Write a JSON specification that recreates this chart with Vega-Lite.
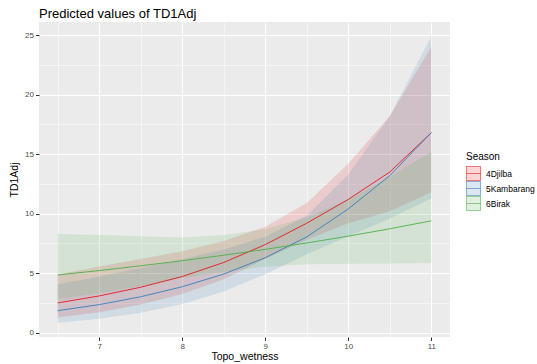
{
  "$schema": "https://vega.github.io/schema/vega-lite/v6.json",
  "autosize": "none",
  "padding": {"left": 39, "top": 22, "right": 87, "bottom": 27},
  "width": 411,
  "height": 315,
  "background": "white",
  "title": {"text": "Predicted values of TD1Adj", "anchor": "start", "frame": "group", "fontSize": 13, "fontWeight": "normal", "font": "Liberation Sans", "color": "black", "offset": 1},
  "config": {
    "view": {"fill": "#EBEBEB", "stroke": null},
    "font": "Liberation Sans",
    "axis": {"labelFont": "Liberation Sans", "titleFont": "Liberation Sans"}
  },
  "data": {"values": [
    {"season": "4Djilba", "x": 6.5, "fit": 2.5, "lo": 1.28, "hi": 4.9},
    {"season": "4Djilba", "x": 7, "fit": 3.09, "lo": 1.72, "hi": 5.56},
    {"season": "4Djilba", "x": 7.5, "fit": 3.82, "lo": 2.36, "hi": 6.19},
    {"season": "4Djilba", "x": 8, "fit": 4.72, "lo": 3.26, "hi": 6.84},
    {"season": "4Djilba", "x": 8.5, "fit": 5.9, "lo": 4.5, "hi": 7.7},
    {"season": "4Djilba", "x": 9, "fit": 7.4, "lo": 6.2, "hi": 8.9},
    {"season": "4Djilba", "x": 9.5, "fit": 9.2, "lo": 7.8, "hi": 10.9},
    {"season": "4Djilba", "x": 10, "fit": 11.2, "lo": 9.2, "hi": 14.2},
    {"season": "4Djilba", "x": 10.5, "fit": 13.5, "lo": 10.2, "hi": 18.2},
    {"season": "4Djilba", "x": 11, "fit": 16.8, "lo": 11.8, "hi": 24.0},
    {"season": "5Kambarang", "x": 6.5, "fit": 1.85, "lo": 0.84, "hi": 4.07},
    {"season": "5Kambarang", "x": 7, "fit": 2.36, "lo": 1.18, "hi": 4.72},
    {"season": "5Kambarang", "x": 7.5, "fit": 3.02, "lo": 1.68, "hi": 5.44},
    {"season": "5Kambarang", "x": 8, "fit": 3.86, "lo": 2.41, "hi": 6.18},
    {"season": "5Kambarang", "x": 8.5, "fit": 4.93, "lo": 3.47, "hi": 7.0},
    {"season": "5Kambarang", "x": 9, "fit": 6.3, "lo": 4.92, "hi": 8.06},
    {"season": "5Kambarang", "x": 9.5, "fit": 8.05, "lo": 6.6, "hi": 9.82},
    {"season": "5Kambarang", "x": 10, "fit": 10.4, "lo": 8.1, "hi": 13.3},
    {"season": "5Kambarang", "x": 10.5, "fit": 13.2, "lo": 9.6, "hi": 18.2},
    {"season": "5Kambarang", "x": 11, "fit": 16.8, "lo": 11.3, "hi": 24.9},
    {"season": "6Birak", "x": 6.5, "fit": 4.85, "lo": 2.83, "hi": 8.3},
    {"season": "6Birak", "x": 7, "fit": 5.22, "lo": 3.3, "hi": 8.2},
    {"season": "6Birak", "x": 7.5, "fit": 5.62, "lo": 3.9, "hi": 8.1},
    {"season": "6Birak", "x": 8, "fit": 6.05, "lo": 4.6, "hi": 8.0},
    {"season": "6Birak", "x": 8.5, "fit": 6.51, "lo": 5.1, "hi": 8.2},
    {"season": "6Birak", "x": 9, "fit": 7.0, "lo": 5.55, "hi": 8.7},
    {"season": "6Birak", "x": 9.5, "fit": 7.54, "lo": 5.75, "hi": 9.7},
    {"season": "6Birak", "x": 10, "fit": 8.11, "lo": 5.8, "hi": 11.2},
    {"season": "6Birak", "x": 10.5, "fit": 8.73, "lo": 5.82, "hi": 13.1},
    {"season": "6Birak", "x": 11, "fit": 9.4, "lo": 5.85, "hi": 15.2}
  ]},
  "layer": [
    {
      "mark": {"type": "area", "opacity": 0.15},
      "encoding": {
        "x": {"field": "x", "type": "quantitative", "scale": {"domain": [6.275, 11.225], "nice": false, "zero": false},
              "axis": {"orient": "top", "values": [6.5, 7.5, 8.5, 9.5, 10.5], "grid": true, "gridColor": "white", "gridWidth": 0.5, "labels": false, "ticks": false, "domain": false, "title": null}},
        "y": {"field": "lo", "type": "quantitative", "scale": {"domain": [-0.36, 26.1], "nice": false, "zero": false},
              "axis": {"orient": "right", "values": [2.5, 7.5, 12.5, 17.5, 22.5], "grid": true, "gridColor": "white", "gridWidth": 0.5, "labels": false, "ticks": false, "domain": false, "title": null}},
        "y2": {"field": "hi"},
        "color": {"field": "season", "type": "nominal", "title": "Season",
                  "scale": {"domain": ["4Djilba", "5Kambarang", "6Birak"], "range": ["#E41A1C", "#377EB8", "#4DAF4A"]},
                  "legend": {"orient": "none", "legendX": 427, "legendY": 130, "titleFontSize": 10, "titleFontWeight": "normal", "titleColor": "black", "titlePadding": 4, "labelFontSize": 8.5, "labelColor": "black", "labelOffset": 5, "rowPadding": 0, "clipHeight": 15, "symbolType": "M-1,-1H1V1H-1ZM-1,0H1", "symbolSize": 200, "symbolOpacity": 1,
                             "encode": {"symbols": {"update": {"fill": {"scale": "color", "field": "value"}, "fillOpacity": {"value": 0.18}, "stroke": {"scale": "color", "field": "value"}, "strokeWidth": {"value": 0.8}, "strokeOpacity": {"value": 0.75}, "opacity": {"value": 1}}}}}}
      }
    },
    {
      "mark": {"type": "line", "strokeWidth": 0.9},
      "encoding": {
        "x": {"field": "x", "type": "quantitative",
              "axis": {"orient": "bottom", "values": [7, 8, 9, 10, 11], "grid": true, "gridColor": "white", "gridWidth": 1, "domain": false, "tickColor": "#333333", "tickSize": 3.5, "labelFontSize": 8, "labelColor": "#4D4D4D", "labelPadding": 2, "title": "Topo_wetness", "titleFontSize": 10.5, "titleFontWeight": "normal", "titleColor": "black", "titlePadding": 1}},
        "y": {"field": "fit", "type": "quantitative",
              "axis": {"orient": "left", "values": [0, 5, 10, 15, 20, 25], "grid": true, "gridColor": "white", "gridWidth": 1, "domain": false, "tickColor": "#333333", "tickSize": 3.5, "labelFontSize": 8, "labelColor": "#4D4D4D", "labelPadding": 2, "title": "TD1Adj", "titleFontSize": 10.5, "titleFontWeight": "normal", "titleColor": "black", "titlePadding": 5}},
        "color": {"field": "season", "type": "nominal"}
      }
    }
  ],
  "resolve": {"axis": {"x": "independent", "y": "independent"}}
}
